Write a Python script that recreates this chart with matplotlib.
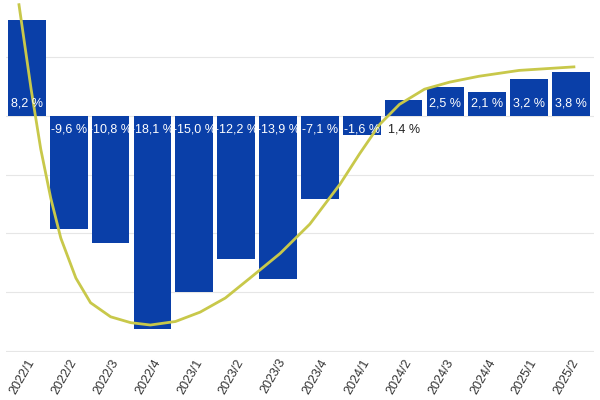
import matplotlib
matplotlib.use("Agg")
from matplotlib import pyplot as plt

periods = ["2022/1", "2022/2", "2022/3", "2022/4", "2023/1", "2023/2", "2023/3",
           "2023/4", "2024/1", "2024/2", "2024/3", "2024/4", "2025/1", "2025/2"]
values = [8.2, -9.6, -10.8, -18.1, -15.0, -12.2, -13.9, -7.1, -1.6, 1.4, 2.5, 2.1, 3.2, 3.8]

# trend curve (x in bar index units, y in %)
trend_x = [-0.19, 0.1, 0.33, 0.57, 0.81, 1.17, 1.52, 2.0, 2.48, 2.95, 3.55, 4.14,
           4.74, 5.33, 6.05, 6.76, 7.48, 7.95, 8.43, 8.9, 9.5, 10.1, 10.8, 11.76, 13.07]
trend_y = [9.5, 2.3, -2.8, -7.0, -10.4, -13.8, -15.9, -17.1, -17.6, -17.8, -17.5, -16.7,
           -15.5, -13.8, -11.7, -9.2, -5.8, -3.2, -0.7, 1.0, 2.3, 2.9, 3.4, 3.9, 4.2]

plt.rcParams["font.family"] = "Liberation Sans"
fig, ax = plt.subplots(figsize=(6, 4), dpi=100)
fig.subplots_adjust(left=0.01, right=0.99, top=1.0, bottom=0.12)

xs = range(len(values))
ax.bar(xs, values, width=0.9, color="#0a3fa8", zorder=2)
for x, v in zip(xs, values):
    if v > 0 and v < 2:
        ax.text(x, -0.6, f"{v:.1f} %".replace(".", ","), ha="center", va="top",
                fontsize=9, color="#222222", zorder=4)
    elif v > 0:
        ax.text(x, 0.6, f"{v:.1f} %".replace(".", ","), ha="center", va="bottom",
                fontsize=9, color="white", zorder=4)
    else:
        ax.text(x, -0.6, f"{v:.1f} %".replace(".", ","), ha="center", va="top",
                fontsize=9, color="white", zorder=4)

ax.plot(trend_x, trend_y, color="#c8c84a", lw=2, zorder=3)

ax.set_ylim(-20.1, 9.9)
ax.set_xlim(-0.5, 13.55)
ax.set_yticks([5, 0, -5, -10, -15, -20])
ax.set_yticklabels([])
ax.tick_params(axis="y", length=0)
ax.tick_params(axis="x", length=0, labelsize=9, colors="#333333")
ax.grid(axis="y", color="#e6e6e6", lw=0.8, zorder=0)
ax.set_xticks(list(xs))
ax.set_xticklabels(periods, rotation=60, ha="right", rotation_mode="anchor")
for s in ax.spines.values():
    s.set_visible(False)

fig.savefig("out.png")
